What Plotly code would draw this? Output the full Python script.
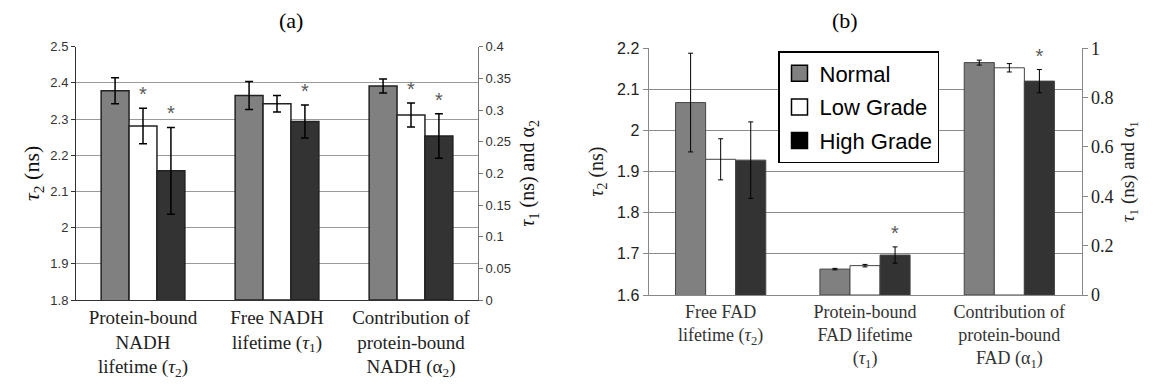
import plotly.graph_objects as go

# ---------------- data ----------------
grades = ["Normal", "Low Grade", "High Grade"]

cats_a = [
    "Protein-bound<br>NADH<br>lifetime (<i>τ</i><sub>2</sub>)",
    "Free NADH<br>lifetime (<i>τ</i><sub>1</sub>)",
    "Contribution of<br>protein-bound<br>NADH (α<sub>2</sub>)",
]
cats_b = [
    "Free FAD<br>lifetime (<i>τ</i><sub>2</sub>)",
    "Protein-bound<br>FAD lifetime<br>(<i>τ</i><sub>1</sub>)",
    "Contribution of<br>protein-bound<br>FAD (α<sub>1</sub>)",
]

# panel (a)
a_tau2 = [2.378, 2.281, 2.157]
a_tau2_err = [0.036, 0.049, 0.120]
a_tau2_star = ["", "*", "*"]
a_tau1 = [0.323, 0.310, 0.282]
a_tau1_err = [0.022, 0.013, 0.026]
a_tau1_star = ["", "", "*"]
a_alpha2 = [0.338, 0.292, 0.259]
a_alpha2_err = [0.011, 0.019, 0.035]
a_alpha2_star = ["", "*", "*"]

# panel (b)
b_tau2 = [2.068, 1.930, 1.928]
b_tau2_err = [0.120, 0.050, 0.093]
b_tau2_star = ["", "", ""]
b_tau1 = [0.105, 0.119, 0.162]
b_tau1_err = [0.003, 0.005, 0.033]
b_tau1_star = ["", "", "*"]
b_alpha1 = [0.942, 0.921, 0.867]
b_alpha1_err = [0.010, 0.017, 0.047]
b_alpha1_star = ["", "", "*"]

# ---------------- style ----------------
fills = ["#808080", "#ffffff", "#333333"]
SANS = "Liberation Sans, Arial, sans-serif"
SERIF = "Liberation Serif, Times New Roman, serif"

W, H = 1153, 388
OFF = 8  # page body margin offsets the figure by 8 px

def px_x(p):
    return (p - OFF) / W

def px_y(p):
    return (H - (p - OFF)) / H

fig = go.Figure()

def add_panel(cats, left_vals, left_err, left_star, r1_vals, r1_err, r1_star,
              r2_vals, r2_err, r2_star, xa, ya_left, ya_right, line_col, line_w, err_w, err_t):
    for i, g in enumerate(grades):
        common = dict(
            marker=dict(color=fills[i], line=dict(color=line_col, width=line_w)),
            offsetgroup=g, showlegend=False, hoverinfo="skip",
        )
        fig.add_trace(go.Bar(
            x=[cats[0]], y=[left_vals[i]], xaxis=xa, yaxis=ya_left,
            error_y=dict(type="data", array=[left_err[i]], color="black",
                         thickness=err_t, width=err_w),
            **common))
        fig.add_trace(go.Bar(
            x=[cats[1], cats[2]], y=[r1_vals[i], r2_vals[i]], xaxis=xa, yaxis=ya_right,
            error_y=dict(type="data", array=[r1_err[i], r2_err[i]], color="black",
                         thickness=err_t, width=err_w),
            **common))
        # invisible bars reaching the top of the error bars, carrying the significance stars
        star_common = dict(
            marker=dict(color="rgba(0,0,0,0)", line=dict(width=0)),
            offsetgroup=g, showlegend=False, hoverinfo="skip",
            textposition="outside", cliponaxis=False,
            textfont=dict(family=SANS, size=20, color="#5a5a5a"),
        )
        fig.add_trace(go.Bar(
            x=[cats[0]], y=[left_vals[i] + left_err[i]], text=[left_star[i]],
            xaxis=xa, yaxis=ya_left, **star_common))
        fig.add_trace(go.Bar(
            x=[cats[1], cats[2]],
            y=[r1_vals[i] + r1_err[i], r2_vals[i] + r2_err[i]],
            text=[r1_star[i], r2_star[i]],
            xaxis=xa, yaxis=ya_right, **star_common))

add_panel(cats_a, a_tau2, a_tau2_err, a_tau2_star, a_tau1, a_tau1_err, a_tau1_star,
          a_alpha2, a_alpha2_err, a_alpha2_star, "x", "y", "y2", "#222222", 1.5, 4, 1.5)
add_panel(cats_b, b_tau2, b_tau2_err, b_tau2_star, b_tau1, b_tau1_err, b_tau1_star,
          b_alpha1, b_alpha1_err, b_alpha1_star, "x2", "y3", "y4", "#444444", 1, 2.5, 1)

# legend entries
for i, g in enumerate(grades):
    fig.add_trace(go.Scatter(
        x=[None], y=[None], xaxis="x2", yaxis="y3", mode="markers", name=g,
        legendgroup=g,
        marker=dict(symbol="square", size=22, color=fills[i] if i < 2 else "#000000",
                    line=dict(color="black", width=1.5)),
    ))

# ---------------- layout ----------------
dom_a = [px_x(76), px_x(478)]
dom_b = [px_x(648.5), px_x(1081.5)]
ydom_a = [px_y(300), px_y(46.7)]
ydom_b = [px_y(295), px_y(48.3)]

tick_a = dict(family=SANS, size=13, color="#333333")
tick_b = dict(family=SANS, size=16, color="#222222")

fig.update_layout(
    width=W, height=H,
    margin=dict(l=0, r=0, t=0, b=0),
    paper_bgcolor="white", plot_bgcolor="white",
    barmode="group", bargap=0.375, bargroupgap=0,
    showlegend=True,
    legend=dict(
        x=px_x(778), y=px_y(51), xanchor="left", yanchor="top",
        bgcolor="white", bordercolor="black", borderwidth=1.5,
        font=dict(family=SANS, size=22, color="black"),
        tracegroupgap=2, itemsizing="trace",
    ),
    xaxis=dict(
        domain=dom_a, anchor="y", type="category",
        categoryorder="array", categoryarray=cats_a,
        showline=True, linecolor="#333333", linewidth=1,
        ticks="", showgrid=False, automargin=False,
        tickfont=dict(family=SERIF, size=19, color="#222222"),
    ),
    yaxis=dict(
        domain=ydom_a, anchor="x", range=[1.8, 2.5], dtick=0.1,
        showline=True, linecolor="#333333", linewidth=1,
        ticks="outside", ticklen=4, tickcolor="#333333",
        showgrid=True, gridcolor="#9a9a9a", gridwidth=1,
        zeroline=False, automargin=False, tickfont=tick_a,
        title=dict(text="<i>τ</i><sub>2</sub> (ns)",
                   font=dict(family=SERIF, size=22, color="#111111"), standoff=4),
    ),
    yaxis2=dict(
        overlaying="y", side="right", anchor="x", range=[0, 0.4], dtick=0.05,
        showline=True, linecolor="#777777", linewidth=1,
        ticks="outside", ticklen=4, tickcolor="#777777",
        showgrid=False, zeroline=False, automargin=False, tickfont=tick_a,
        title=dict(text="<i>τ</i><sub>1</sub> (ns) and α<sub>2</sub>",
                   font=dict(family=SERIF, size=20, color="#111111"), standoff=10),
    ),
    xaxis2=dict(
        domain=dom_b, anchor="y3", type="category",
        categoryorder="array", categoryarray=cats_b,
        showline=True, linecolor="#888888", linewidth=1,
        ticks="", showgrid=False, automargin=False,
        tickfont=dict(family=SERIF, size=18, color="#333333"),
    ),
    yaxis3=dict(
        domain=ydom_b, anchor="x2", range=[1.6, 2.2], dtick=0.1,
        showline=True, linecolor="#888888", linewidth=1,
        ticks="outside", ticklen=5, tickcolor="#888888",
        showgrid=True, gridcolor="#8a8a8a", gridwidth=1,
        zeroline=False, automargin=False, tickfont=tick_b,
        title=dict(text="<i>τ</i><sub>2</sub> (ns)",
                   font=dict(family=SERIF, size=20, color="#222222"), standoff=8),
    ),
    yaxis4=dict(
        overlaying="y3", side="right", anchor="x2", range=[0, 1], dtick=0.2,
        showline=True, linecolor="#888888", linewidth=1,
        ticks="outside", ticklen=5, tickcolor="#888888",
        showgrid=False, zeroline=False, automargin=False,
        tickfont=dict(family=SERIF, size=18, color="#222222"),
        title=dict(text="<i>τ</i><sub>1</sub> (ns) and α<sub>1</sub>",
                   font=dict(family=SERIF, size=19, color="#222222"), standoff=8),
    ),
    annotations=[
        dict(text="(a)", xref="paper", yref="paper", x=sum(dom_a) / 2, y=px_y(20),
             yanchor="middle", showarrow=False,
             font=dict(family=SERIF, size=22, color="black")),
        dict(text="(b)", xref="paper", yref="paper", x=sum(dom_b) / 2 - 5 / W, y=px_y(20),
             yanchor="middle", showarrow=False,
             font=dict(family=SERIF, size=22, color="black")),
    ],
)

fig.write_html("out.html")
